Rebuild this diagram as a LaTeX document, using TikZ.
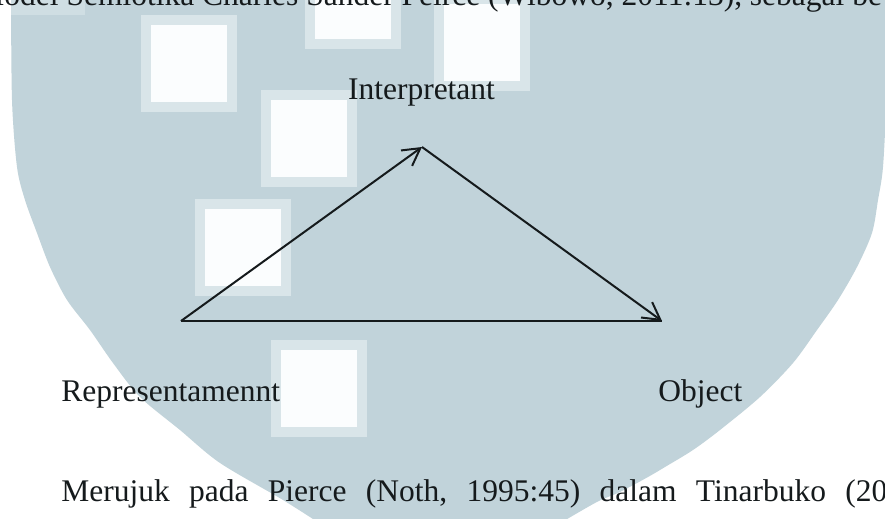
\documentclass[tikz,border=0pt]{standalone}
\usepackage{fontspec}
\setmainfont{Liberation Serif}
\usepackage{tikz}
\usetikzlibrary{arrows.meta,positioning}
\definecolor{shieldgray}{HTML}{C1D3DA}
\definecolor{tilerim}{HTML}{D9E5E9}
\definecolor{tilewhite}{HTML}{FBFDFE}
\definecolor{inkdark}{HTML}{151A1C}

\begin{document}
\begin{tikzpicture}[
  x=0.5pt,y=-0.5pt,
  every node/.style={font=\fontsize{15.75}{19}\selectfont,inner sep=0pt,text=inkdark},
  lbl/.style={anchor=base},
  txt/.style={anchor=base west},
  arr/.style={-{Straight Barb[length=8.5pt,width=9.5pt]},line width=1pt,draw=inkdark},
  baseline/.style={line width=1pt,draw=inkdark}
]
\useasboundingbox (0,0) rectangle (885,519);
\clip (0,0) rectangle (885,519);
\fill[white] (0,0) rectangle (885,519);
% watermark
\fill[shieldgray] plot[smooth] coordinates {(11,-10) (12,100) (17,167) (25,200) (37,233) (50,267) (67,300) (90,330) (113,363) (140,397) (180,430) (220,463) (283,500) (330,530)}
  -- plot[smooth] coordinates {(540,535) (595,503) (620,492) (648,477) (665,467) (693,450) (720,430) (760,397) (793,363) (817,330) (838,300) (857,267) (872,233) (878,200) (883,167) (886,100) (886,-10)} -- cycle;
\fill[tilerim!60!shieldgray] (11,-10) rectangle (85,15);
\foreach \tx/\ty in {141/15,305/-48,434/-6,261/90,195/199,271/340}{
  \fill[tilerim] (\tx,\ty) rectangle ++(96,97);
  \fill[tilewhite] (\tx+10,\ty+10) rectangle ++(76,77);
}
% triangle
\coordinate (rep) at (181,321);
\coordinate (int) at (422,147);
\coordinate (obj) at (662,321);
\node[lbl] (intlbl) at (421.5,100) {Interpretant};
\node[txt] (replbl) at (61,401) {Representamennt};
\node[txt] (objlbl) at (658,401) {Object};
\draw[baseline] (rep) -- (obj);
\draw[arr] (rep) -- (int);
\draw[arr] (int) -- (obj);
% running text
\node[txt] (model) at (-24,6) {Model Semiotika Charles Sander Peirce (Wibowo, 2011:13), sebagai be};
\node[txt] (merujuk) at (61,501) {\spaceskip=9.65pt Merujuk pada Pierce (Noth, 1995:45) dalam Tinarbuko (20};
\end{tikzpicture}
\end{document}
